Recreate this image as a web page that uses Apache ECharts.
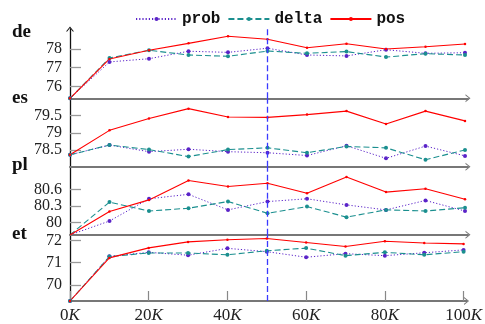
<!DOCTYPE html>
<html>
<head>
<meta charset="utf-8">
<script src="https://cdn.jsdelivr.net/npm/echarts@6/dist/echarts.min.js"></script>
<style>
html, body { margin: 0; padding: 0; background: #fff; }
#chart { width: 485px; height: 324px; }
</style>
</head>
<body>
<div id="chart"></div>
<script>
// 训练步数 (K)
var steps = [0, 10, 20, 30, 40, 50, 60, 70, 80, 90, 100];
var xTicks = [0, 20, 40, 60, 80, 100];
var cutoff = 50;
var langs = ['de', 'es', 'pl', 'et'];

// de
var deProb  = [75.36, 77.30, 77.47, 77.87, 77.81, 78.03, 77.67, 77.62, 77.95, 77.76, 77.79];
var deDelta = [75.36, 77.51, 77.92, 77.67, 77.60, 77.88, 77.76, 77.85, 77.56, 77.74, 77.67];
var dePos   = [75.36, 77.46, 77.92, 78.29, 78.67, 78.51, 78.06, 78.27, 77.99, 78.11, 78.26];
// es
var esProb  = [78.37, 78.65, 78.46, 78.53, 78.46, 78.43, 78.35, 78.63, 78.27, 78.62, 78.34];
var esDelta = [78.37, 78.65, 78.52, 78.32, 78.52, 78.57, 78.43, 78.61, 78.57, 78.23, 78.51];
var esPos   = [78.37, 79.07, 79.41, 79.69, 79.45, 79.44, 79.52, 79.62, 79.25, 79.62, 79.34];
// pl
var plProb  = [79.78, 80.03, 80.43, 80.51, 80.23, 80.38, 80.43, 80.32, 80.23, 80.40, 80.21];
var plDelta = [79.78, 80.37, 80.21, 80.26, 80.38, 80.17, 80.29, 80.10, 80.23, 80.21, 80.27];
var plPos   = [79.78, 80.20, 80.41, 80.76, 80.65, 80.71, 80.53, 80.82, 80.55, 80.61, 80.42];
// et
var etProb  = [69.27, 71.28, 71.46, 71.33, 71.64, 71.49, 71.24, 71.40, 71.31, 71.44, 71.57];
var etDelta = [69.27, 71.27, 71.43, 71.43, 71.35, 71.53, 71.65, 71.31, 71.46, 71.35, 71.49];
var etPos   = [69.27, 71.21, 71.66, 71.93, 72.03, 72.08, 71.90, 71.72, 71.96, 71.88, 71.84];

// y刻度
var deTicks = [76, 77, 78];
var esTicks = [78.5, 79, 79.5];
var plTicks = [80, 80.3, 80.6];
var etTicks = [70, 71, 72];

var yMin = [75.36, 78.031, 79.784, 69.27];
var yMax = [79.056, 79.986, 81.007, 72.254];

var probData  = [deProb, esProb, plProb, etProb];
var deltaData = [deDelta, esDelta, plDelta, etDelta];
var posData   = [dePos, esPos, plPos, etPos];
var tickData  = [deTicks, esTicks, plTicks, etTicks];

// 布局
var gridTop = [29, 98.3, 166.7, 234.7];
var gridHeight = [69.3, 68.4, 68, 67.6];
var nameY = [32.5, 98.5, 166, 234.5];
var xMax = 100.76;

var serif = '"Liberation Serif", "Times New Roman", serif';
var chevron = 'path://M0,5 L4,0 L8,5 L6.8,5 L4,1.5 L1.2,5 Z';

var colors = { prob: '#5a23c8', delta: '#1b8f8f', pos: '#ff0000' };

function pairs(vals) {
	return steps.map(function (x, i) { return [x, vals[i]]; });
}

var grids = [], xAxes = [], yAxes = [], series = [], texts = [];

for (var i = 0; i < 4; i++) {
	var last = (i == 3);
	grids.push({ left: 70, width: 398, top: gridTop[i], height: gridHeight[i] });
	xAxes.push({
		type: 'value', gridIndex: i, min: 0, max: xMax,
		splitLine: { show: false },
		axisLine: {
			show: true, onZero: false,
			symbol: ['none', chevron], symbolSize: [8, 5],
			lineStyle: { color: '#777', width: 2 }
		},
		axisTick: {
			show: last, inside: true, length: 10, customValues: xTicks,
			lineStyle: { color: '#888', width: 1.2 }
		},
		axisLabel: {
			show: last, margin: 6, customValues: xTicks,
			showMinLabel: true, showMaxLabel: true, hideOverlap: false,
			formatter: function (v) { return '{n|' + v + '}{k|K}'; },
			rich: {
				n: { fontFamily: serif, fontSize: 17, color: '#222' },
				k: { fontFamily: serif, fontSize: 17, fontStyle: 'italic', color: '#222' }
			}
		}
	});
	yAxes.push({
		type: 'value', gridIndex: i, min: yMin[i], max: yMax[i],
		splitLine: { show: false },
		axisLine: {
			show: true, onZero: false,
			symbol: i == 0 ? ['none', chevron] : ['none', 'none'], symbolSize: [8, 5],
			lineStyle: { color: '#111', width: 1.3 }
		},
		axisTick: {
			show: true, inside: true, length: 11, customValues: tickData[i],
			lineStyle: { color: '#999', width: 1.3 }
		},
		axisLabel: {
			show: true, margin: 8, customValues: tickData[i],
			showMinLabel: true, showMaxLabel: true, hideOverlap: false,
			fontFamily: serif, fontSize: 16, lineHeight: 12, color: '#222'
		}
	});
	series.push({
		name: 'prob', type: 'line', xAxisIndex: i, yAxisIndex: i,
		data: pairs(probData[i]),
		symbol: 'circle', symbolSize: 4,
		lineStyle: { color: colors.prob, width: 1, type: [1.2, 2] },
		itemStyle: { color: colors.prob }
	});
	series.push({
		name: 'delta', type: 'line', xAxisIndex: i, yAxisIndex: i,
		data: pairs(deltaData[i]),
		symbol: 'circle', symbolSize: 4,
		lineStyle: { color: colors.delta, width: 1.1, type: [6, 3] },
		itemStyle: { color: colors.delta }
	});
	series.push({
		name: 'pos', type: 'line', xAxisIndex: i, yAxisIndex: i,
		data: pairs(posData[i]),
		symbol: 'circle', symbolSize: 2.5,
		lineStyle: { color: colors.pos, width: 1.1 },
		itemStyle: { color: colors.pos },
		markLine: {
			silent: true, symbol: 'none', label: { show: false },
			lineStyle: { color: '#3a3aff', width: 1.3, type: [6, 3] },
			data: [{ xAxis: cutoff }]
		}
	});
	texts.push({
		type: 'text', left: 12, top: nameY[i] - 10,
		style: { text: langs[i], font: 'bold 19px ' + serif, fill: '#111' }
	});
}

var chart = echarts.init(document.getElementById('chart'));
var option = {
	animation: false,
	backgroundColor: '#fff',
	legend: {
		data: ['prob', 'delta', 'pos'],
		left: 135, top: 11, padding: 0,
		itemWidth: 41, itemHeight: 5, itemGap: 7,
		textStyle: { fontFamily: '"Liberation Mono", monospace', fontWeight: 'bold', fontSize: 16, color: '#111' }
	},
	grid: grids,
	xAxis: xAxes,
	yAxis: yAxes,
	series: series,
	graphic: texts
};
chart.setOption(option);
</script>
</body>
</html>
